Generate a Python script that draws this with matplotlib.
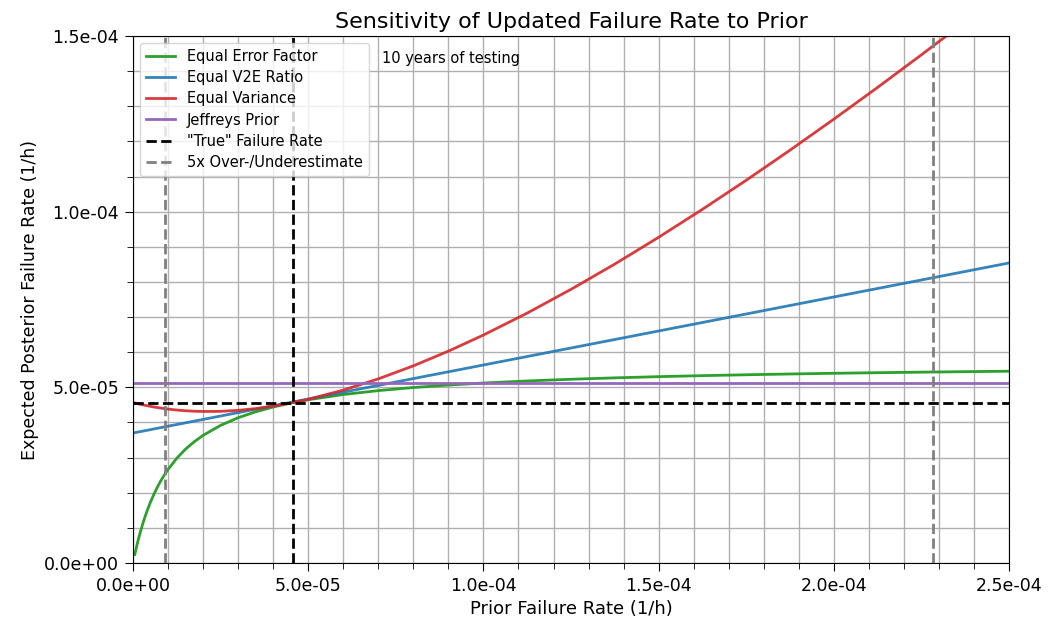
import matplotlib
matplotlib.use("Agg")
import matplotlib.pyplot as plt
from matplotlib.ticker import MultipleLocator, FormatStrFormatter

# values
prior_rate = [5e-7, 1e-6, 1.5e-6, 2e-6, 3e-6, 4e-6, 5e-6, 6e-6, 7e-6, 8e-6, 9e-6, 1e-5,
              1.25e-5, 1.5e-5, 1.75e-5, 2e-5, 2.5e-5, 3e-5, 3.5e-5, 4e-5, 4.5e-5, 5e-5,
              6e-5, 7e-5, 8e-5, 9e-5, 1e-4, 1.125e-4, 1.25e-4, 1.375e-4, 1.5e-4, 1.625e-4,
              1.75e-4, 1.875e-4, 2e-4, 2.125e-4, 2.25e-4, 2.375e-4, 2.5e-4]

equal_error_factor = [2.395e-6, 4.600e-6, 6.629e-6, 8.510e-6, 1.188e-5, 1.481e-5, 1.739e-5,
                      1.966e-5, 2.170e-5, 2.352e-5, 2.516e-5, 2.665e-5, 2.983e-5, 3.241e-5,
                      3.454e-5, 3.634e-5, 3.918e-5, 4.135e-5, 4.304e-5, 4.440e-5, 4.553e-5,
                      4.647e-5, 4.795e-5, 4.907e-5, 4.995e-5, 5.065e-5, 5.123e-5, 5.182e-5,
                      5.230e-5, 5.270e-5, 5.304e-5, 5.333e-5, 5.358e-5, 5.380e-5, 5.400e-5,
                      5.417e-5, 5.432e-5, 5.446e-5, 5.459e-5]

equal_v2e_ratio = [3.710e-5, 3.719e-5, 3.729e-5, 3.739e-5, 3.758e-5, 3.777e-5, 3.797e-5,
                   3.816e-5, 3.836e-5, 3.855e-5, 3.874e-5, 3.894e-5, 3.942e-5, 3.990e-5,
                   4.039e-5, 4.087e-5, 4.184e-5, 4.281e-5, 4.378e-5, 4.474e-5, 4.571e-5,
                   4.668e-5, 4.862e-5, 5.055e-5, 5.249e-5, 5.442e-5, 5.636e-5, 5.878e-5,
                   6.120e-5, 6.362e-5, 6.604e-5, 6.846e-5, 7.088e-5, 7.330e-5, 7.572e-5,
                   7.814e-5, 8.056e-5, 8.298e-5, 8.540e-5]

equal_variance = [4.554e-5, 4.542e-5, 4.530e-5, 4.519e-5, 4.497e-5, 4.477e-5, 4.458e-5,
                  4.440e-5, 4.424e-5, 4.408e-5, 4.394e-5, 4.381e-5, 4.354e-5, 4.333e-5,
                  4.320e-5, 4.313e-5, 4.317e-5, 4.345e-5, 4.395e-5, 4.465e-5, 4.553e-5,
                  4.659e-5, 4.921e-5, 5.241e-5, 5.612e-5, 6.030e-5, 6.489e-5, 7.114e-5,
                  7.790e-5, 8.510e-5, 9.271e-5, 1.0067e-4, 1.0895e-4, 1.1751e-4, 1.2633e-4,
                  1.3538e-4, 1.4465e-4, 1.5410e-4, 1.6373e-4]

jeffreys_prior = 5.137e-5
true_rate = 4.566e-5
over_under = [9.13e-6, 2.283e-4]

fig = plt.figure(figsize=(10.49, 6.23), dpi=100)
ax = fig.add_axes([0.1268, 0.0963, 0.8351, 0.8459])

ax.plot(prior_rate, equal_error_factor, color="#2ca02c", linewidth=2, label="Equal Error Factor")
ax.plot(prior_rate, equal_v2e_ratio, color="#1f77b4", linewidth=2, alpha=0.9, label="Equal V2E Ratio")
ax.plot(prior_rate, equal_variance, color="#d62728", linewidth=2, alpha=0.9, label="Equal Variance")
ax.axhline(jeffreys_prior, color="#9467bd", linewidth=2, label="Jeffreys Prior")
ax.axhline(true_rate, color="black", linestyle="--", linewidth=2, label='"True" Failure Rate')
ax.axvline(true_rate, color="black", linestyle="--", linewidth=2)
ax.axvline(over_under[0], color="gray", linestyle="--", linewidth=2, label="5x Over-/Underestimate")
ax.axvline(over_under[1], color="gray", linestyle="--", linewidth=2)

ax.set_xlim(0, 2.5e-4)
ax.set_ylim(0, 1.5e-4)
ax.xaxis.set_major_locator(MultipleLocator(5e-5))
ax.xaxis.set_minor_locator(MultipleLocator(1e-5))
ax.yaxis.set_major_locator(MultipleLocator(5e-5))
ax.yaxis.set_minor_locator(MultipleLocator(1e-5))
ax.xaxis.set_major_formatter(FormatStrFormatter("%.1e"))
ax.yaxis.set_major_formatter(FormatStrFormatter("%.1e"))
ax.tick_params(axis="both", which="major", labelsize=12.5, length=6, pad=4)
ax.tick_params(axis="both", which="minor", length=4)
ax.grid(True, which="both", color="#b0b0b0", linewidth=1)
ax.set_axisbelow(True)

ax.set_title("Sensitivity of Updated Failure Rate to Prior", fontsize=16)
ax.set_xlabel("Prior Failure Rate (1/h)", fontsize=13)
ax.set_ylabel("Expected Posterior Failure Rate (1/h)", fontsize=12.5)
ax.text(7.1e-5, 1.435e-4, "10 years of testing", fontsize=10.5, va="center")
ax.legend(loc="upper left", fontsize=10.5, framealpha=0.8, labelspacing=0.42)

fig.savefig("out.png", dpi=100)
